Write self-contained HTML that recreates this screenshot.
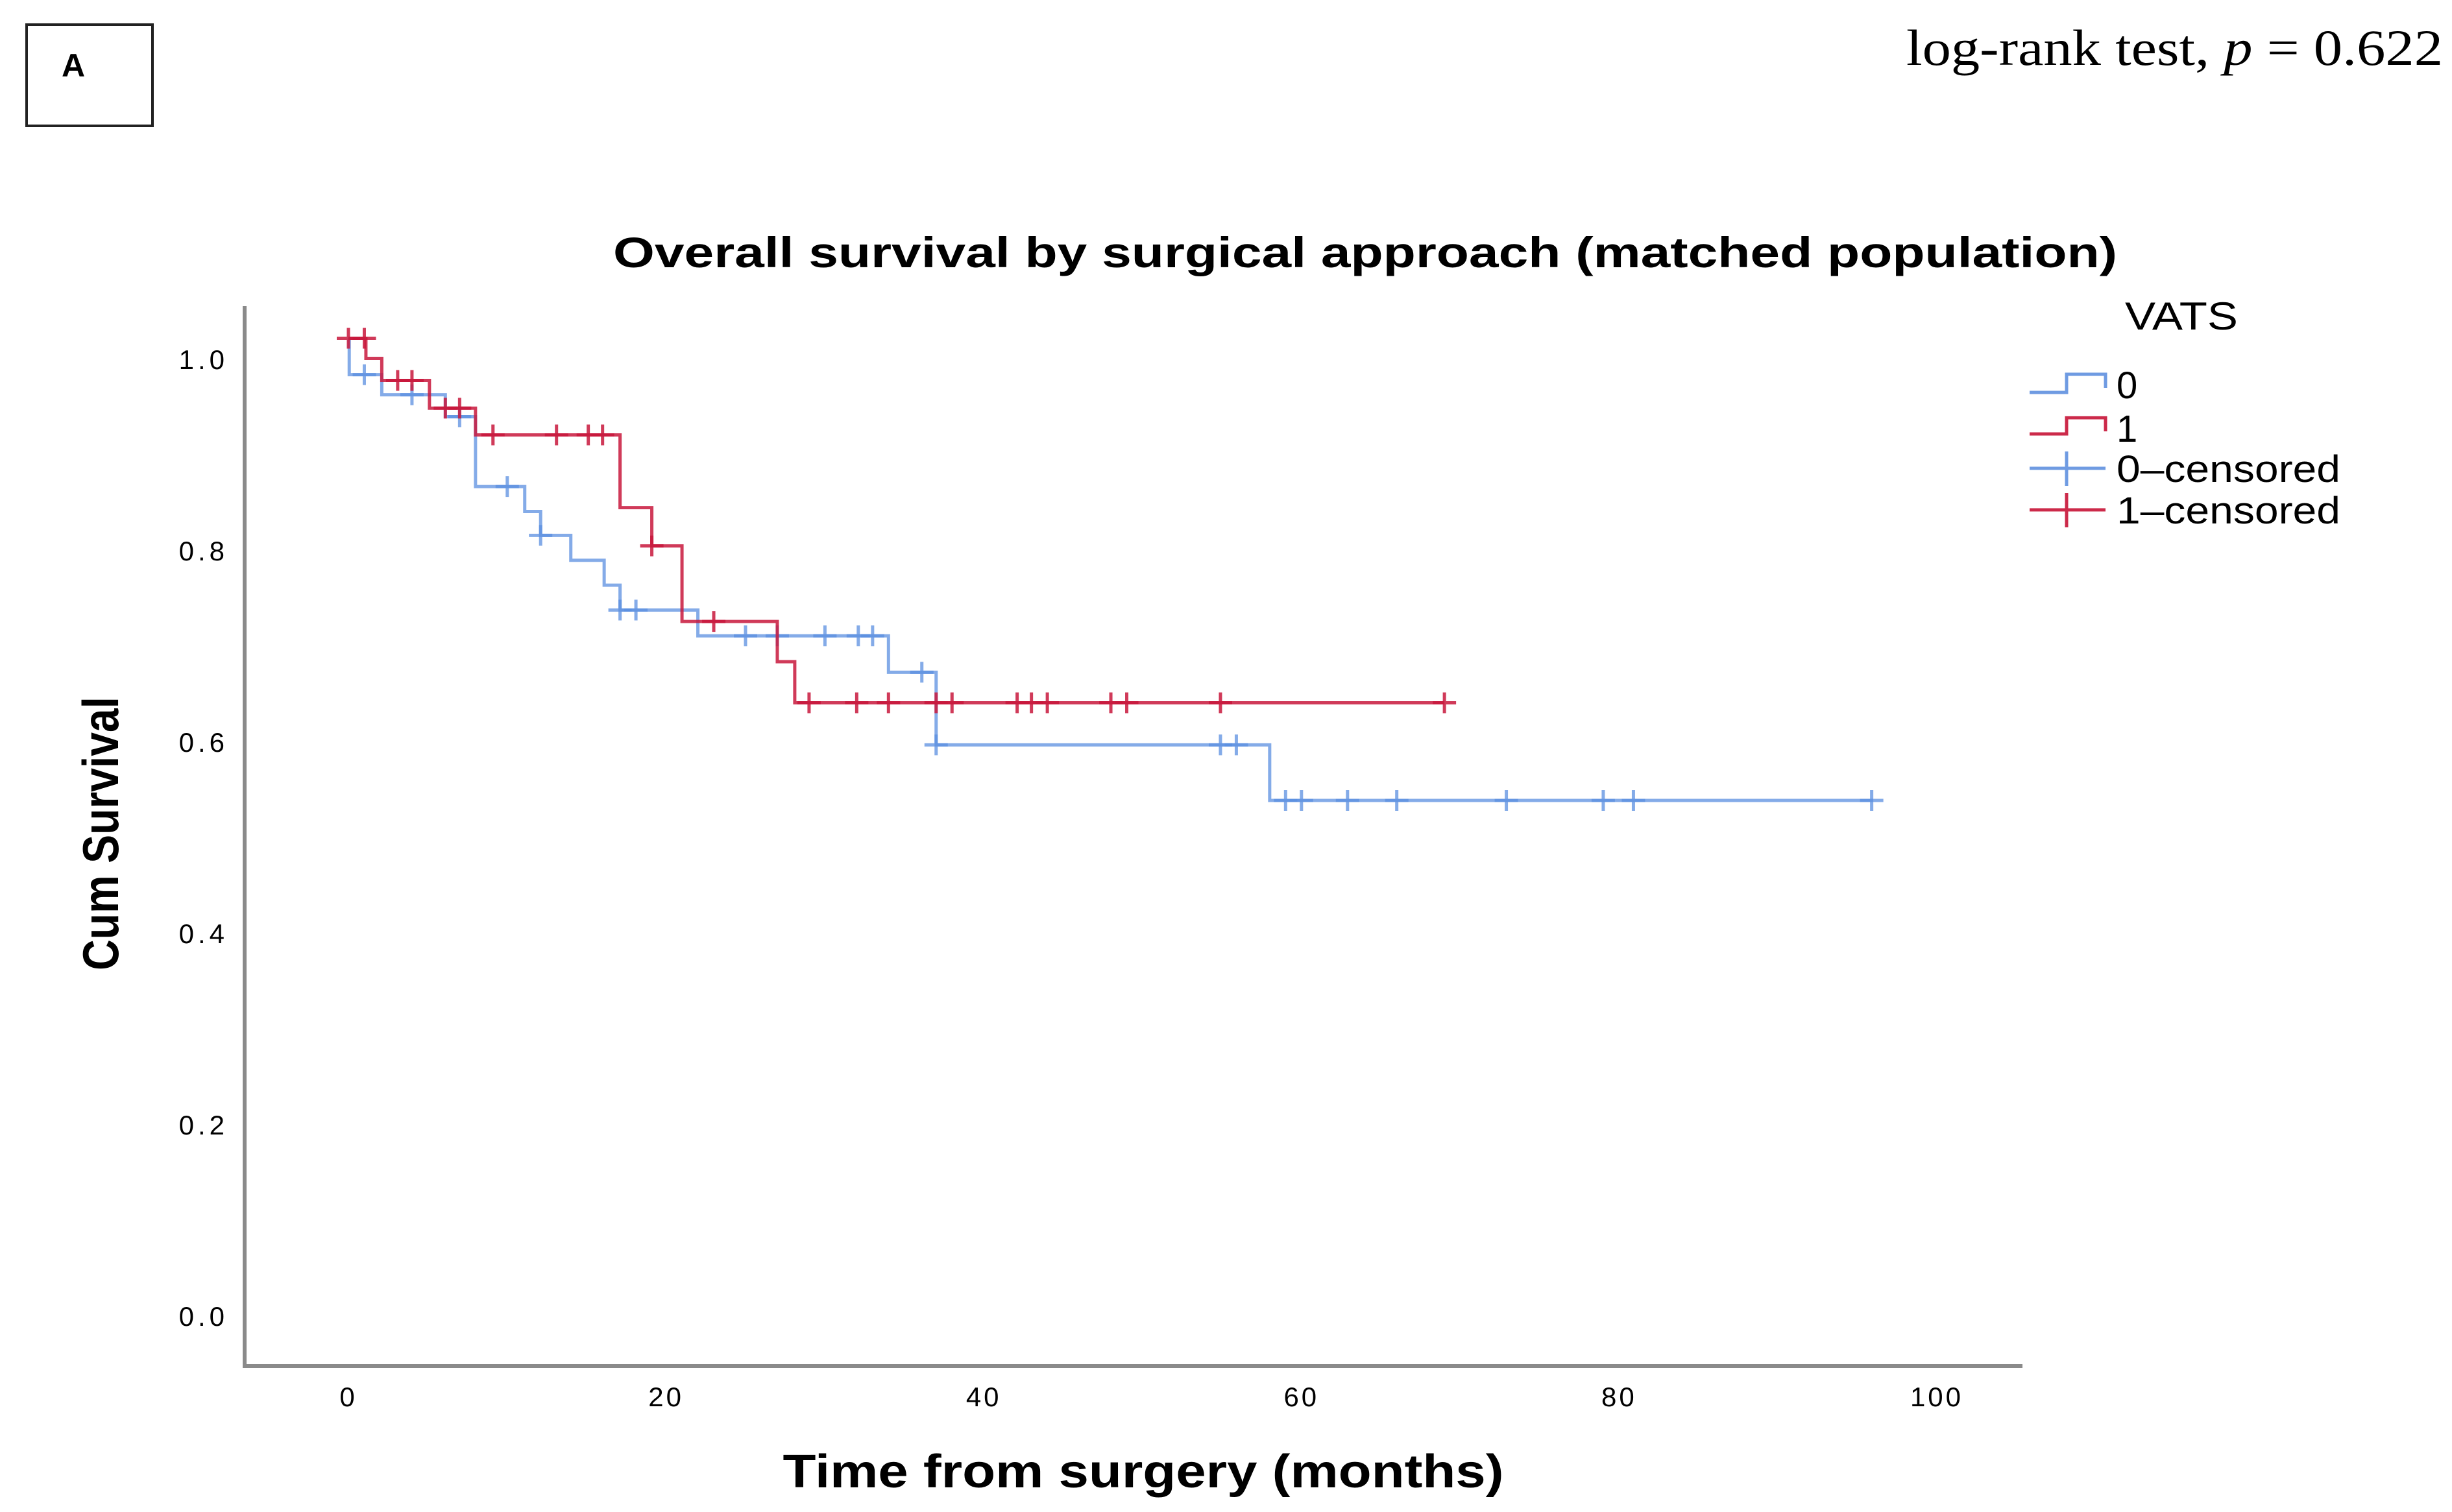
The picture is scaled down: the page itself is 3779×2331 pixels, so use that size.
<!DOCTYPE html>
<html><head><meta charset="utf-8">
<style>
html,body{margin:0;padding:0;background:#fff;}
svg{display:block;}
text{font-family:"Liberation Sans","DejaVu Sans",sans-serif;}
</style></head>
<body>
<svg id="chart" width="3779" height="2331" viewBox="0 0 3779 2331" xmlns="http://www.w3.org/2000/svg">
  <rect x="0" y="0" width="3779" height="2331" fill="#fff"/>
  <rect x="41" y="38" width="194" height="156" fill="none" stroke="#222" stroke-width="4"/>
  <text x="113" y="118" font-size="50" font-weight="bold" text-anchor="middle">A</text>
  <text x="2938" y="100" font-size="78" textLength="827" lengthAdjust="spacingAndGlyphs" style="font-family:'Liberation Serif',serif">log-rank test, <tspan font-style="italic">p</tspan> = 0.622</text>
  <text x="2104" y="412" font-size="66" font-weight="bold" text-anchor="middle" textLength="2318" lengthAdjust="spacingAndGlyphs">Overall survival by surgical approach (matched population)</text>
  <text transform="translate(182,1285) rotate(-90)" font-size="78" font-weight="bold" text-anchor="middle" textLength="422" lengthAdjust="spacingAndGlyphs">Cum Survival</text>
  <text x="1762" y="2293" font-size="72" font-weight="bold" text-anchor="middle" textLength="1111" lengthAdjust="spacingAndGlyphs">Time from surgery (months)</text>
  <g id="axes"></g>
  <g id="series"></g>
  <g id="legend">
    <text x="3362" y="508" font-size="60" text-anchor="middle" textLength="174" lengthAdjust="spacingAndGlyphs">VATS</text>
    <g>
      <path d="M3128,605 H3185 V577 H3245 V598" fill="none" stroke="#6f9be2" stroke-width="5"/>
      <text x="3262" y="614" font-size="58">0</text>
    </g>
    <g>
      <path d="M3128,669 H3185 V644 H3245 V665" fill="none" stroke="#cc2a4a" stroke-width="5"/>
      <text x="3262" y="681" font-size="58">1</text>
    </g>
    <g>
      <path d="M3128,722 H3245 M3185,696 V749" fill="none" stroke="#6f9be2" stroke-width="5"/>
      <text x="3262" y="743" font-size="58" textLength="345" lengthAdjust="spacingAndGlyphs">0–censored</text>
    </g>
    <g>
      <path d="M3128,786 H3245 M3185,760 V813" fill="none" stroke="#cc2a4a" stroke-width="5"/>
      <text x="3262" y="807" font-size="58" textLength="345" lengthAdjust="spacingAndGlyphs">1–censored</text>
    </g>
  </g>
</svg>
<script>
// ---- data ----
const xTicks = [0, 20, 40, 60, 80, 100];
const yTicks = [0.0, 0.2, 0.4, 0.6, 0.8, 1.0];
const yTickLabels = ["0.0", "0.2", "0.4", "0.6", "0.8", "1.0"];
// group 0 (blue): event times and survival after each event
const blueStartValue = 1.022;
const blueEventTimes = [0.05, 2.1, 6.1, 8.0, 11.1, 12.1, 14.0, 16.1, 17.1, 22.0, 34.0, 37.0, 58.0];
const blueEventValues = [0.984, 0.963, 0.940, 0.867, 0.841, 0.816, 0.790, 0.764, 0.738, 0.711, 0.673, 0.597, 0.539];
const blueEndTime = 96;
const blueCensorTimes = [1, 4, 7, 10, 12.1, 17.1, 18.1, 25, 27, 30, 32.1, 33, 36.1, 37, 54.9, 55.9, 59, 60, 62.9, 66, 72.9, 79, 80.9, 95.9];
// group 1 (red)
const redStartValue = 1.022;
const redEventTimes = [1.1, 2.1, 5.1, 8.0, 17.1, 19.1, 21.0, 27.0, 28.1];
const redEventValues = [1.001, 0.978, 0.949, 0.921, 0.845, 0.805, 0.726, 0.684, 0.641];
const redEndTime = 69;
const redCensorTimes = [0, 1, 3.1, 4.0, 6.1, 7.0, 9.1, 13.1, 15.1, 16.0, 19.1, 23.0, 29, 32, 34, 37, 38, 42.1, 43, 44, 48, 49, 54.9, 69];

// ---- scales ----
const X0 = 537, XPER = 24.48;
const Y0 = 2029, YPER = 1475;
function xs(t){ return X0 + t * XPER; }
function ys(v){ return Y0 - v * YPER; }
const NS = "http://www.w3.org/2000/svg";
function mk(tag, attrs, parent){
  const e = document.createElementNS(NS, tag);
  for (const k in attrs) e.setAttribute(k, attrs[k]);
  parent.appendChild(e);
  return e;
}
const axes = document.getElementById('axes');
const series = document.getElementById('series');

let a = mk('line', {x1:377, y1:472, x2:377, y2:2108, stroke:'#8a8a8a', 'stroke-width':6}, axes);


a = mk('line', {x1:374, y1:2106, x2:3117, y2:2106, stroke:'#8a8a8a', 'stroke-width':6}, axes);



yTicks.forEach((v, i) => {
  const t = mk('text', {x:352, y:ys(v)+15, 'font-size':42, 'text-anchor':'end', 'letter-spacing':'6'}, axes);
  t.textContent = yTickLabels[i];
  
  
});
xTicks.forEach(v => {
  const t = mk('text', {x:xs(v), y:2168, 'font-size':42, 'text-anchor':'middle', 'letter-spacing':'4'}, axes);
  t.textContent = String(v);
  
  
});

function stepPath(startV, times, vals, endT){
  let d = 'M' + xs(0) + ',' + ys(startV);
  times.forEach((t, i) => {
    d += ' H' + xs(t) + ' V' + ys(vals[i]);
  });
  d += ' H' + xs(endT);
  return d;
}
function valueAt(startV, times, vals, t){
  let v = startV;
  for (let i = 0; i < times.length; i++) if (times[i] <= t + 0.01) v = vals[i];
  return v;
}
function drawGroup(name, color, opacity, startV, times, vals, endT, cens){
  const p = mk('path', {d: stepPath(startV, times, vals, endT), fill:'none', stroke:color, 'stroke-width':5, 'stroke-opacity':opacity}, series);
  
  
  cens.forEach(t => {
    const v = valueAt(startV, times, vals, t);
    const cx = xs(t), cy = ys(v);
    const c = mk('path', {d:'M'+(cx-18)+','+cy+' H'+(cx+18)+' M'+cx+','+(cy-16)+' V'+(cy+16), fill:'none', stroke:color, 'stroke-width':5, 'stroke-opacity':opacity}, series);
    
    
  });
}
drawGroup('group-0', '#5b8fe0', 0.75, blueStartValue, blueEventTimes, blueEventValues, blueEndTime, blueCensorTimes);
drawGroup('group-1', '#c8183c', 0.85, redStartValue, redEventTimes, redEventValues, redEndTime, redCensorTimes);
</script>
</body></html>
